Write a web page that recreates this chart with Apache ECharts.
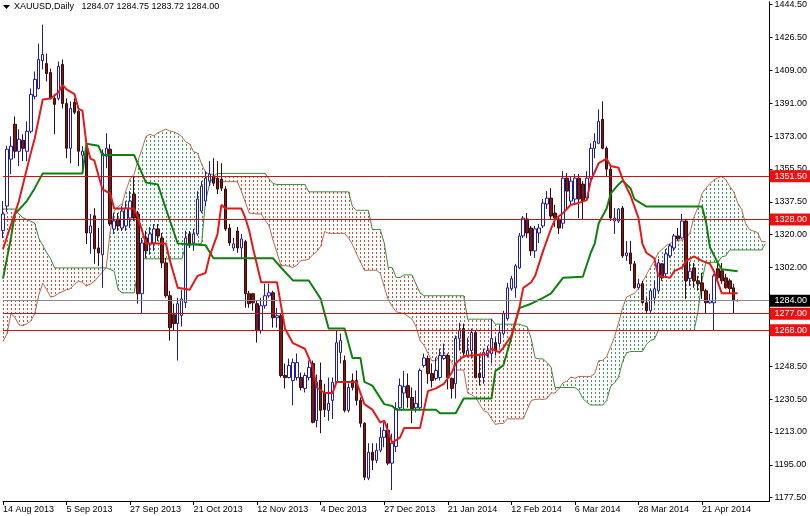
<!DOCTYPE html>
<html><head><meta charset="utf-8">
<script src="https://cdn.jsdelivr.net/npm/echarts@6.0.0/dist/echarts.min.js"></script>
<style>html,body{margin:0;padding:0;background:#fff}#c{width:810px;height:516px}</style>
</head><body><div id="c"></div>
<script>
// ---- categories: trading days (weekdays, minus market holidays) ----
const firstDay = '2013-08-14';
const holidays = ['2013-12-25', '2014-01-01'];
const barCount = 194;
const months = ['Jan','Feb','Mar','Apr','May','Jun','Jul','Aug','Sep','Oct','Nov','Dec'];
const categories = [];
(function () {
  const d = new Date(firstDay + 'T00:00:00Z');
  while (categories.length < barCount) {
    const wd = d.getUTCDay(), iso = d.toISOString().slice(0, 10);
    if (wd !== 0 && wd !== 6 && holidays.indexOf(iso) < 0) categories.push(iso);
    d.setUTCDate(d.getUTCDate() + 1);
  }
})();
const lastLabelIndex = 176;

// ---- price axis tick labels ----
const priceTicks = [1177.5,1195,1213,1230.5,1248.5,1266.5,1302,1320,1337.5,1355.5,1373,1391,1409,1426.5,1444.5];
const levelLines = [1351.5, 1328, 1277, 1268];
const lastPrice = 1284.00;
const titleText = 'XAUUSD,Daily   1284.07 1284.75 1283.72 1284.00';

// ---- daily candles [open, high, low, close] ----
const ohlc = [
[1322,1338,1318,1331],[1335.3,1368,1332,1366.1],[1360.7,1373.1,1352.6,1367.7],[1379.6,1383.9,1361.2,1365],[1365,1376.9,1356.9,1371.5],
[1370.9,1374.2,1359.6,1366.6],[1365,1381.2,1359.6,1375.8],[1375.8,1399,1374.7,1395.8],[1394.7,1408.2,1393.1,1403.9],[1399,1423.3,1398.5,1414.7],
[1414.1,1433.6,1409.3,1417.4],[1412.5,1417.9,1402.8,1407.1],[1407.7,1409.8,1393.1,1393.6],[1393.6,1395.8,1374.2,1390.4],[1393.6,1413.6,1392.5,1410.9],
[1412,1414.7,1388.2,1390.9],[1390.9,1393.6,1361.2,1366.6],[1366.6,1392,1358.5,1388.2],[1391.5,1393.6,1385,1386.1],[1386.6,1388.2,1356.9,1365],
[1362.8,1367.7,1355.3,1365],[1366.6,1367.7,1314.8,1320.7],[1320.7,1331,1309.4,1324.5],[1330,1334.2,1304,1312.1],[1312.6,1323.4,1302.9,1309.9],
[1309,1366,1291,1364],[1362.3,1374.7,1355.8,1366.6],[1366.1,1368.8,1324.5,1325.6],[1322.9,1331.5,1320.2,1327.2],[1328.3,1331.5,1321.8,1324.5],
[1323.4,1335.3,1321.8,1332.6],[1324.5,1338,1321.8,1334.2],[1328.8,1343.4,1323.4,1338],[1341.8,1351.5,1327.2,1328.8],[1331,1332.6,1282.4,1287.8],
[1287.8,1318,1277,1315.3],[1318,1322,1307,1311],[1314.8,1324,1309,1320.2],[1315.3,1325.6,1311,1322.9],[1322.9,1325.6,1316.4,1319.1],
[1318,1320.7,1301.8,1304.5],[1304.5,1307.2,1285.6,1286.7],[1286.7,1289.4,1262.4,1269.4],[1276.4,1282.4,1267.8,1271.6],[1271.6,1285.6,1251.6,1282.4],
[1276,1290,1270,1285],[1283,1322,1280,1318],[1320.2,1321.8,1312.6,1314.8],[1315.3,1322.9,1311,1320.2],[1320.2,1343.4,1319.1,1339.1],
[1332.6,1348.8,1331.5,1346.1],[1338,1354.2,1335.3,1350.4],[1348.8,1359.6,1346.1,1352.6],[1351.5,1361.2,1346.1,1347.7],[1350.4,1359.6,1341.8,1344.5],
[1349.9,1358.5,1343.4,1345],[1344.5,1346.1,1321.8,1322.9],[1323.4,1325.6,1313.7,1315.3],[1312.6,1318,1311,1314.8],[1321.8,1324,1310,1312.6],
[1312.6,1320.2,1307.2,1317.5],[1316,1317,1280.2,1287.8],[1287.8,1289.4,1280.2,1282.4],[1287.8,1288.3,1278.6,1282.9],[1282.4,1284,1261.3,1267.8],
[1267.8,1285.6,1266.2,1281.3],[1281.3,1293.2,1279.7,1286.7],[1286.7,1293.2,1285.6,1288.3],[1288.3,1289.4,1269.4,1274.8],[1274.8,1280.2,1269.4,1275.9],
[1275.9,1277,1242.4,1243.5],[1243.5,1250,1236.5,1242.4],[1242.4,1252.7,1241.9,1248.9],[1240.8,1252.7,1227.3,1250.5],[1242.4,1255.4,1240.8,1250.5],
[1242.4,1245.1,1235.4,1237],[1236.5,1245.1,1234.3,1243.5],[1242.4,1251.6,1240.8,1247.8],[1250,1251.6,1217.6,1218.1],[1219,1244,1215.4,1240],
[1241,1250.5,1212.2,1224.6],[1234,1239,1221,1225],[1224.6,1242.4,1219,1228.4],[1230,1242.4,1220,1239.7],[1239.7,1267.8,1239,1261.3],
[1256,1266.2,1250,1262.4],[1251.6,1254.3,1223.5,1224.6],[1224.6,1239.2,1223.5,1237],[1240.8,1244.6,1235.4,1237],[1240.8,1246.2,1227.3,1230],
[1230,1231.6,1215.4,1217.6],[1217.6,1218.1,1186.8,1188.4],[1187.9,1206.8,1186.8,1201.9],[1201.9,1206.8,1192.2,1197.6],[1197.6,1206.8,1196,1203],
[1203,1215.4,1201.9,1210],[1210,1218.1,1204.6,1213.8],[1213.8,1217.6,1194.9,1196],[1196,1212,1181.4,1206.8],[1205,1229,1202,1225.6],
[1226,1241.9,1225,1238],[1234,1246,1224.6,1237.5],[1238,1244.6,1226,1231.6],[1231.6,1237,1217.6,1225.6],[1226,1235.4,1223.5,1228.4],
[1226,1247.3,1224.6,1246.2],[1248.9,1255.4,1247.8,1253],[1252.7,1254.3,1239,1244.6],[1244.6,1250,1237,1240.8],[1241.9,1253.2,1240.8,1246.2],
[1242.4,1258.1,1240.8,1254.3],[1252.7,1260.8,1252,1254.3],[1254.3,1255.4,1236,1242.4],[1241.9,1242.4,1231,1236.5],[1239,1265.1,1231,1263.5],
[1263.5,1272,1257,1267.8],[1268.9,1271.6,1253.2,1255.9],[1254.3,1264,1253.2,1257],[1257,1268.9,1252.7,1266.7],[1266.7,1267.8,1241.9,1242.4],
[1244.6,1255.4,1238,1242.4],[1242.4,1258.1,1239,1255.9],[1254.3,1259.7,1253.2,1257],[1255.4,1274.3,1250,1263.5],[1261.3,1264,1254.3,1257],
[1260.8,1270.5,1258.6,1266.7],[1266.2,1278.6,1265.1,1277],[1274.3,1293.7,1273.2,1291],[1290.5,1297.5,1289.4,1295.9],[1291,1304,1285.6,1302.9],
[1301.8,1320.7,1301.3,1319.1],[1319.1,1329.9,1318,1328.8],[1328.3,1331.5,1318,1320.7],[1323.4,1324.5,1308.3,1311],[1311,1324.5,1307.2,1322.9],
[1320.7,1325.6,1315.3,1323.4],[1324.5,1339.1,1323.4,1336.9],[1336.4,1343.4,1333.7,1339.6],[1339.6,1345,1328.3,1329.9],[1331.5,1336,1324,1328.8],
[1328.3,1329.9,1320.2,1323.4],[1326,1354.2,1323,1350.4],[1350.4,1353.1,1333.7,1343.4],[1338,1351.5,1336.4,1348.8],[1339.1,1352.6,1337,1350.4],
[1350.4,1352.6,1328.8,1339.1],[1347.2,1348.8,1328.3,1338],[1339.6,1354.2,1338,1350.4],[1350.4,1369.3,1348.8,1366.6],[1366.6,1374.7,1361.2,1370.4],
[1369.3,1387.7,1368.8,1381.2],[1382.3,1392,1366.1,1366.6],[1366.6,1367.7,1351.5,1355.3],[1355.3,1358,1327.2,1328.8],[1327.2,1334.2,1320.2,1328.8],
[1327.2,1334.2,1326.1,1333.7],[1334.2,1335.3,1307.2,1308.3],[1308.3,1316.4,1305.6,1309.9],[1309.9,1316.4,1300.2,1304],[1304,1305.6,1290.5,1291],
[1291,1295.9,1290.5,1293.2],[1293.2,1294.8,1282.4,1282.9],[1282.9,1285.6,1277.5,1278.6],[1278.6,1290.5,1277.5,1289.4],[1285.6,1294.8,1282.4,1290.5],
[1289.4,1306.7,1287.8,1304.5],[1304,1304.5,1294.8,1296.4],[1298.6,1312.1,1296.4,1309.4],[1308.3,1314.8,1307.2,1313.7],[1312.6,1320.2,1311,1319.1],
[1319.1,1323.4,1316.4,1317.5],[1318,1331,1317.5,1327.2],[1327.2,1328.3,1285,1294.8],[1296,1305,1292,1300],[1301.8,1304.5,1291,1294.8],
[1294.8,1297.5,1289.4,1293.2],[1293.7,1299.1,1285,1289.4],[1289.4,1290.5,1277,1282.9],[1282.9,1287.8,1282.4,1284],[1282.9,1298.6,1267.8,1297.5],
[1301.3,1305.6,1294.8,1296.4],[1300.2,1304.5,1293.2,1294.8],[1296.4,1298.6,1290.5,1291],[1294.8,1295.9,1287.8,1290.5],[1291,1293.2,1277,1284],
[1284.07,1284.75,1283.72,1284.00]
];

// ---- Ichimoku lines: [bar index, price] vertices ----
const tenkan = [[0,1312],[4,1338],[7,1364],[8,1372],[10,1393],[12,1393.6],[14,1397],[15,1401],[16,1398.5],[18,1396],[19,1388],[20,1387],[21,1369],[22,1361],[23,1360],[25,1344.5],[27,1342],[28,1334],[33,1334],[34,1329],[36,1315],[41,1315],[42,1306],[44,1291],[47,1290],[49,1297.5],[51,1299],[52,1308],[54,1320],[55,1336],[56,1334],[60,1334],[61,1329],[62,1322],[63,1312],[65,1294],[69,1294],[71,1269],[73,1261],[76,1258],[77,1253],[78,1248],[79,1237],[81,1234],[83,1234],[84,1240],[89,1240],[91,1228],[93,1225],[95,1218],[96,1219],[98,1207],[100,1210],[101,1215],[105,1215],[106,1225],[107,1235],[109,1236.5],[111,1239],[113,1245],[114,1250],[116,1254],[122,1255],[123,1258],[125,1256],[126,1258.6],[128,1265],[130,1280],[131,1291],[133,1294],[134,1297.5],[136,1311],[138,1323],[139,1328],[141,1331.5],[143,1336],[145,1337],[147,1338.5],[148,1349],[150,1358.5],[152,1361],[153,1357],[155,1356],[156,1350],[158,1341],[160,1329],[161,1315],[162,1310],[164,1307],[165,1297.5],[168,1296.5],[169,1300],[171,1302],[172,1305.6],[174,1308],[176,1305.6],[178,1304],[179,1300],[181,1288],[185,1288]];
const kijun = [[0,1296],[2,1318],[3,1331],[6,1338],[8,1345],[10,1353],[20,1353],[21,1369],[24,1368],[25,1363],[33,1363],[36,1348],[39,1347],[41,1334],[44,1315],[51,1314],[53,1307],[68,1307],[70,1302],[73,1295],[77,1295],[80,1285],[82,1269],[86,1269],[88,1253],[90,1253],[91,1240],[93,1238],[96,1228],[98,1227],[99,1225],[109,1225],[110,1223],[114,1223],[116,1231],[123,1231],[124,1246],[126,1249],[128,1264],[130,1280],[133,1282.4],[136,1285.6],[138,1288],[141,1296.4],[146,1297],[148,1310],[149,1315],[150,1326],[152,1334],[153,1342],[155,1347],[156,1349],[158,1345],[159,1339],[162,1335],[176,1335],[177,1327],[178,1313],[180,1304.5],[181,1301],[185,1300]];

// ---- cloud spans, one value per bar (already shifted forward) ----
const spanA = [
1262,1266,1277,1275,1271,1270.5,1271.5,1273,1277,1287,
1293.5,1290,1286,1286.5,1288,1289,1290,1290.5,1293,1294.5,
1294,1292,1293,1294.5,1297,1299.5,1302,1321.8,1332.6,1335,
1336.5,1344,1350,1352.5,1360,1366,1373,1374.2,1373.3,1375,
1376,1377,1376,1375.5,1374.5,1373,1370,1369,1364.7,1364,
1358,1353.7,1352.5,1352.5,1348.5,1348.5,1348.5,1348.5,1348.5,1348.5,
1343.5,1337.5,1331.5,1331.3,1331,1331,1327.7,1324.5,1316.7,1310,
1303,1303,1302.7,1302,1303.3,1305.8,1306,1306.5,1309,1310.5,
1313.5,1321.5,1320.5,1320.5,1320.5,1320.5,1320.5,1318,1314.5,1309.5,
1305,1300.5,1300.5,1300.5,1300.5,1299,1291.5,1284.5,1281,1278,
1277.5,1277,1275.5,1274,1270,1262.5,1260,1255.5,1251.5,1251.5,
1254.5,1254.5,1254.5,1250.5,1246.5,1246.5,1246.5,1234,1233,1231.5,
1228,1224.5,1223.5,1220,1217,1217.5,1217.5,1220,1220,1220,
1220,1220,1225,1230,1230.5,1230.7,1230.5,1231,1234,1234,
1236.5,1239.5,1240.5,1242.7,1242,1243,1243,1243,1243,1244.5,
1251.5,1251.7,1253.8,1259,1264.5,1272,1280,1286,1287,1288,
1290.5,1294,1298,1302,1305.5,1310,1311.8,1314,1315,1316.3,
1316.6,1317,1317.4,1321,1329.5,1334.4,1342,1345,1347.5,1349.5,
1350.5,1351.5,1349.5,1346,1343,1337,1333.5,1325.7,1322.5,1321.7,
1321,1316,1316];
const spanB = [
1333.7,1333.7,1333.7,1333.7,1331,1329,1328,1327,1326,1318,
1314,1310,1306.7,1301.8,1301.8,1301.8,1301.8,1301.8,1301.8,1301.8,
1301.8,1301.8,1301.8,1301.8,1301.8,1301.8,1301.8,1301,1300,1290,
1288.3,1288.3,1288.3,1288.3,1300,1306.7,1306.7,1306.7,1306.7,1306.7,
1306.7,1306.7,1306.7,1306.7,1306.7,1306.7,1313.7,1314,1314.8,1314.8,
1315,1338,1347,1351.5,1353,1353,1353,1353,1353,1353,
1353,1353,1353,1353,1353,1353,1353,1350,1347.5,1347,
1347,1347,1347,1347,1347,1347,1347,1343,1343,1343,
1343,1343,1343,1343,1343,1343,1343,1343,1335,1333,
1333,1333,1333,1322.6,1322.6,1322.6,1315.3,1302,1302,1296.6,
1296.6,1298,1298,1298,1293,1288.3,1286.7,1286.7,1286.7,1286.7,
1286.7,1286.7,1286.7,1286.7,1286.7,1286.7,1286.7,1274,1274,1274,
1274,1274,1274,1274,1271.3,1271.3,1271.3,1271.3,1271.3,1271.3,
1271.3,1270.5,1270,1263.5,1253,1252.5,1252.5,1250.5,1248,1237,
1237,1237,1237,1237,1237,1235.4,1231,1229,1227.5,1227.5,
1227.5,1227.5,1230,1237.6,1239.5,1242.7,1251,1255.7,1256.5,1256.5,
1256.5,1256.5,1260.3,1262.4,1263.2,1267.8,1267.8,1267.8,1267.8,1267.8,
1267.8,1267.8,1267.8,1267.8,1267.8,1278,1294.9,1304.8,1304.8,1304.8,
1304.8,1307.8,1308.3,1311.5,1311.5,1311.5,1311.5,1311.5,1311.5,1311.5,
1311.5,1311.5,1315];

// ---- styles ----
const FONT = '"Liberation Sans", Arial, sans-serif';
const hatchGreen = '#389858', hatchRed = '#cc4a32';

const chart = echarts.init(document.getElementById('c'), null, {renderer: 'canvas'});
const candleData = ohlc.map(r => [r[0], r[3], r[2], r[1]]);
const cloudData = spanA.map((a, i) => [i, a, spanB[i]]);

chart.setOption({
  animation: false,
  backgroundColor: '#ffffff',
  grid: {left: -1, top: 0, width: 772, height: 501},
  graphic: [
    {type: 'polygon', shape: {points: [[3, 5], [10, 5], [6.5, 9]]}, style: {fill: '#000'}},
    {type: 'text', left: 14, top: 2, style: {text: titleText, font: '9px ' + FONT, fill: '#000'}}
  ],
  xAxis: {
    type: 'category', data: categories, boundaryGap: false,
    axisLine: {show: true, lineStyle: {color: '#000', width: 1}},
    axisTick: {show: true, length: 4, lineStyle: {color: '#000'},
      interval: (i) => i % 16 === 0 && i <= lastLabelIndex},
    axisLabel: {
      interval: (i) => i % 16 === 0 && i <= lastLabelIndex,
      align: 'left', margin: 4, color: '#000', fontSize: 9, fontFamily: FONT,
      formatter: (v) => { const p = v.split('-'); return (+p[2]) + ' ' + months[+p[1] - 1] + ' ' + p[0]; }
    },
    splitLine: {show: false}
  },
  yAxis: {
    type: 'value', position: 'right', min: 1175.5, max: 1446, scale: true,
    axisLine: {show: true, lineStyle: {color: '#000', width: 1}},
    axisTick: {show: true, length: 3, lineStyle: {color: '#000'}, customValues: priceTicks},
    axisLabel: {show: true, margin: 5, color: '#000', fontSize: 9, fontFamily: FONT,
      customValues: priceTicks, formatter: (v) => v.toFixed(2)},
    splitLine: {show: false}
  },
  series: [
    {
      type: 'custom', name: 'cloud', z: 1, silent: true, clip: true, data: cloudData,
      renderItem: function (params, api) {
        const i = api.value(0), a = api.value(1), b = api.value(2);
        const pa = api.coord([i, a]), pb = api.coord([i, b]);
        const x = Math.round(pa[0]) + 0.5;
        const y1 = Math.min(pa[1], pb[1]), y2 = Math.max(pa[1], pb[1]);
        return {type: 'line', shape: {x1: x, y1: y1, x2: x, y2: y2},
          style: {stroke: a >= b ? hatchGreen : hatchRed, lineWidth: 1, lineDash: [2, 2], lineDashOffset: y1 % 4}};
      }
    },
    {type: 'line', name: 'Senkou A', data: spanA, z: 2, symbol: 'none', silent: true,
      lineStyle: {color: '#b5674f', width: 1}},
    {type: 'line', name: 'Senkou B', data: spanB, z: 2, symbol: 'none', silent: true, clip: false,
      lineStyle: {color: '#3b8a3b', width: 1},
      markLine: {
        silent: true, symbol: ['none', 'none'], animation: false,
        lineStyle: {type: 'solid', width: 1},
        label: {position: 'end', distance: 0, color: '#fff', fontSize: 9, fontFamily: FONT,
          lineHeight: 10, padding: [1, 3, 1, 5], formatter: (p) => p.value.toFixed(2)},
        data: levelLines.map(v => ({yAxis: v, lineStyle: {color: '#c81414'}, label: {backgroundColor: '#ec1010'}}))
          .concat([{yAxis: lastPrice, lineStyle: {color: '#8a8a8a'}, label: {backgroundColor: '#000'}}])
      }
    },
    {type: 'candlestick', name: 'XAUUSD', data: candleData, z: 3, barWidth: 3, silent: true,
      itemStyle: {color: '#ffffff', color0: '#7d1818', borderColor: '#1c1caa', borderColor0: '#3a0a0a', borderWidth: 1}},
    {type: 'line', name: 'Kijun', data: kijun, z: 4, symbol: 'none', silent: true,
      lineStyle: {color: '#0e800e', width: 2}},
    {type: 'line', name: 'Tenkan', data: tenkan, z: 5, symbol: 'none', silent: true,
      lineStyle: {color: '#e21a1a', width: 2}}
  ]
});
</script></body></html>
